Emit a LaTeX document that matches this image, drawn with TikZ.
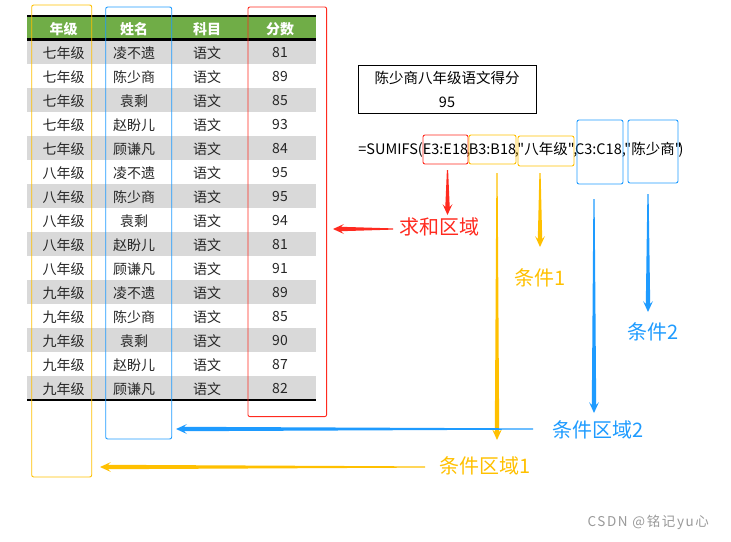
\documentclass[tikz,border=0pt]{standalone}
\usepackage{fontspec}
\setmainfont{Noto Sans CJK SC}
\newfontfamily\droit{Noto Sans CJK SC}
\newfontfamily\marque{Noto Sans CJK SC}[LetterSpace=12]
\usetikzlibrary{calc}

\definecolor{rouge}{HTML}{FF2A1F}
\definecolor{jaune}{HTML}{FFC000}
\definecolor{bleu}{HTML}{1E9BFF}
\definecolor{vert}{HTML}{70AD47}
\definecolor{gris}{HTML}{D9D9D9}

% fleche effilee : couleur, depart, pointe
\newcommand{\fleche}[3]{%
  \fill[#1] ($(#2)!0.6pt!90:(#3)$)
    -- ($(#3)!8pt!(#2)!2.2pt!-90:(#2)$)
    -- ($(#3)!11pt!(#2)!5pt!-90:(#2)$)
    -- (#3)
    -- ($(#3)!11pt!(#2)!5pt!90:(#2)$)
    -- ($(#3)!8pt!(#2)!2.2pt!90:(#2)$)
    -- ($(#2)!0.6pt!-90:(#3)$) -- cycle;}

\begin{document}
\begin{tikzpicture}[x=1pt, y=-1pt,
  cellule/.style={text=black!85, font=\fontsize{14}{16}\selectfont},
  entete/.style={text=white, font=\bfseries\fontsize{14}{16}\selectfont},
  cadre/.style={draw=#1, line width=0.9pt, rounded corners=2pt, inner sep=0pt},
  formule/.style={anchor=base, inner sep=0pt, font=\droit\fontsize{14.5}{16}\selectfont},
  etiquette/.style={text=#1, font=\fontsize{20}{22}\selectfont}]
  \useasboundingbox (0,0) rectangle (731,541);

  % L'en-tete
  \fill[vert] (27,17) rectangle (316,38.5);
  \node[entete] (h1) at (63.5,29) {年级};
  \node[entete] (h2) at (134,29) {姓名};
  \node[entete] (h3) at (207,29) {科目};
  \node[entete] (h4) at (280,29) {分数};

  % Les lignes
  \foreach \g/\n/\s [count=\i] in {七年级/凌不遗/81, 七年级/陈少商/89, 七年级/袁剩/85,
      七年级/赵盼儿/93, 七年级/顾谦凡/84, 八年级/凌不遗/95, 八年级/陈少商/95,
      八年级/袁剩/94, 八年级/赵盼儿/81, 八年级/顾谦凡/91, 九年级/凌不遗/89,
      九年级/陈少商/85, 九年级/袁剩/90, 九年级/赵盼儿/87, 九年级/顾谦凡/82}{
    \ifodd\i \fill[gris] (27,{16+24*\i}) rectangle (316,{40+24*\i}); \fi
    \node[cellule] (g\i) at (63.5,{29+24*\i}) {\g};
    \node[cellule] (n\i) at (134,{29+24*\i}) {\n};
    \node[cellule] (m\i) at (207,{29+24*\i}) {语文};
    \node[cellule] (s\i) at (280,{29+24*\i}) {\s};
  }

  % Les traits noirs
  \draw[line width=2.3pt] (27,16.2) -- (316,16.2);
  \draw[line width=2.3pt] (27,39.5) -- (316,39.5);
  \draw[line width=2.3pt] (27,399.7) -- (316,399.7);

  % Les cadres des colonnes
  \node[cadre=jaune, minimum width=60pt, minimum height=472pt] (zgrade) at (61.7,241) {};
  \node[cadre=bleu, minimum width=66pt, minimum height=432pt] (zname) at (138.7,223) {};
  \node[cadre=rouge, minimum width=78.7pt, minimum height=409.7pt] (zsum) at (287.3,211.8) {};

  % Le resultat
  \node[draw, line width=0.9pt, minimum width=178pt, minimum height=48pt, align=center,
    font=\fontsize{14.5}{24}\selectfont] (res) at (447,89) {陈少商八年级语文得分\\95};

  % La formule
  \node[formule, anchor=base east] (f0) at (423,154) {=SUMIFS(};
  \node[formule] (f1) at (445.5,154) {E3:E18};
  \node[formule] (f2) at (468.5,154) {,};
  \node[formule] (f3) at (492.5,154) {B3:B18};
  \node[formule] (f4) at (517,154) {,};
  \node[formule] (f5) at (546,154) {"八年级"};
  \node[formule] (f6) at (575.5,154) {,};
  \node[formule] (f7) at (598.5,154) {C3:C18};
  \node[formule] (f8) at (624,154) {,};
  \node[formule] (f9) at (653,154) {"陈少商"};
  \node[formule] (f10) at (681,154) {)};

  \node[cadre=rouge, minimum width=45pt, minimum height=29pt] (bsum) at (445.5,149.5) {};
  \node[cadre=jaune, minimum width=47pt, minimum height=29pt] (bcrange) at (492.5,149.5) {};
  \node[cadre=jaune, minimum width=56pt, minimum height=30pt] (bcrit) at (546,151) {};
  \node[cadre=bleu, minimum width=46pt, minimum height=64pt] (bcrangeb) at (600,152) {};
  \node[cadre=bleu, minimum width=50pt, minimum height=63pt] (bcritb) at (653,151.5) {};

  % Les etiquettes
  \node[etiquette=rouge, anchor=west] (lsum) at (396,227) {求和区域};
  \node[etiquette=jaune] (lcrit) at (540,278) {条件1};
  \node[etiquette=bleu] (lcritb) at (653,332) {条件2};
  \node[etiquette=bleu, anchor=west] (lrangeb) at (549,430) {条件区域2};
  \node[etiquette=jaune, anchor=west] (lrange) at (436,466) {条件区域1};

  % Les fleches
  \coordinate (q1) at (447.5,170); \coordinate (p1) at (447.5,215);
  \coordinate (q2) at (393,229);   \coordinate (p2) at (333,229);
  \coordinate (q3) at (497,173);   \coordinate (p3) at (497,440);
  \coordinate (q4) at (540,173);   \coordinate (p4) at (540,247);
  \coordinate (q5) at (594,199);   \coordinate (p5) at (594,413);
  \coordinate (q6) at (648,194);   \coordinate (p6) at (648,312);
  \coordinate (q7) at (533,429);   \coordinate (p7) at (176,429);
  \coordinate (q8) at (425,467);   \coordinate (p8) at (100,467);
  \fleche{rouge}{q1}{p1}
  \fleche{rouge}{q2}{p2}
  \fleche{jaune}{q3}{p3}
  \fleche{jaune}{q4}{p4}
  \fleche{bleu}{q5}{p5}
  \fleche{bleu}{q6}{p6}
  \fleche{bleu}{q7}{p7}
  \fleche{jaune}{q8}{p8}

  % Le filigrane
  \node[anchor=west, text=black!40, font=\marque\fontsize{13.5}{15}\selectfont] (wm) at (584,522) {CSDN @铭记yu心};
\end{tikzpicture}
\end{document}
